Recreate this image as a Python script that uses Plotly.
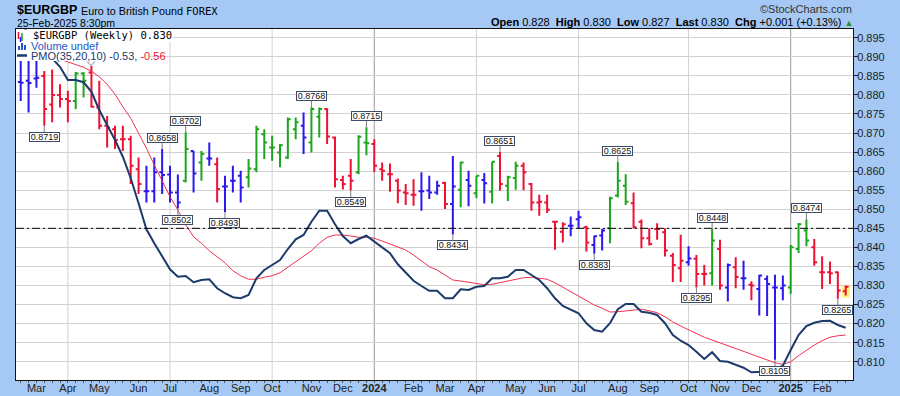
import pandas as pd
import plotly.graph_objects as go

# ---------------- data ----------------
start_week = "2023-02-20"
n_weeks = 106
dates = pd.date_range(start=start_week, periods=n_weeks, freq="7D")

opens = [0.8834, 0.8837, 0.8843, 0.8850, 0.8775, 0.8800, 0.8789, 0.8784, 0.8856, 0.8859,
         0.8767, 0.8719, 0.8710, 0.8684, 0.8684, 0.8605, 0.8547, 0.8547, 0.8597, 0.8591,
         0.8544, 0.8575, 0.8653, 0.8623, 0.8633, 0.8618, 0.8560, 0.8575, 0.8588, 0.8584,
         0.8605, 0.8697, 0.8662, 0.8649, 0.8636, 0.8710, 0.8719, 0.8675, 0.8743, 0.8763,
         0.8688, 0.8577, 0.8588, 0.8597, 0.8675, 0.8671, 0.8605, 0.8592, 0.8575, 0.8544,
         0.8538, 0.8547, 0.8549, 0.8544, 0.8569, 0.8514, 0.8551, 0.8577, 0.8542, 0.8577,
         0.8546, 0.8640, 0.8562, 0.8582, 0.8614, 0.8566, 0.8518, 0.8518, 0.8467, 0.8441,
         0.8457, 0.8474, 0.8453, 0.8406, 0.8431, 0.8450, 0.8536, 0.8562, 0.8516, 0.8467,
         0.8424, 0.8448, 0.8440, 0.8378, 0.8345, 0.8361, 0.8370, 0.8330, 0.8332, 0.8396,
         0.8295, 0.8348, 0.8319, 0.8302, 0.8291, 0.8317, 0.8295, 0.8293, 0.8295, 0.8396,
         0.8444, 0.8400, 0.8335, 0.8335, 0.8335, 0.8285]
highs = [0.8889, 0.8889, 0.8889, 0.8863, 0.8867, 0.8828, 0.8811, 0.8860, 0.8860, 0.8876,
         0.8837, 0.8745, 0.8719, 0.8719, 0.8693, 0.8636, 0.8614, 0.8636, 0.8658, 0.8614,
         0.8591, 0.8702, 0.8653, 0.8653, 0.8675, 0.8636, 0.8588, 0.8614, 0.8601, 0.8632,
         0.8719, 0.8710, 0.8693, 0.8671, 0.8741, 0.8741, 0.8754, 0.8768, 0.8767, 0.8765,
         0.8691, 0.8588, 0.8632, 0.8694, 0.8715, 0.8684, 0.8623, 0.8620, 0.8581, 0.8566,
         0.8579, 0.8597, 0.8588, 0.8575, 0.8572, 0.8640, 0.8625, 0.8601, 0.8588, 0.8595,
         0.8625, 0.8651, 0.8588, 0.8625, 0.8623, 0.8569, 0.8538, 0.8538, 0.8470, 0.8466,
         0.8481, 0.8496, 0.8457, 0.8431, 0.8448, 0.8533, 0.8625, 0.8592, 0.8544, 0.8473,
         0.8450, 0.8463, 0.8450, 0.8385, 0.8433, 0.8403, 0.8380, 0.8354, 0.8448, 0.8420,
         0.8358, 0.8374, 0.8365, 0.8311, 0.8328, 0.8326, 0.8328, 0.8326, 0.8406, 0.8464,
         0.8474, 0.8422, 0.8377, 0.8363, 0.8337, 0.8300]
lows = [0.8784, 0.8754, 0.8819, 0.8719, 0.8728, 0.8767, 0.8728, 0.8763, 0.8793, 0.8767,
        0.8710, 0.8662, 0.8658, 0.8653, 0.8566, 0.8540, 0.8518, 0.8518, 0.8540, 0.8518,
        0.8502, 0.8570, 0.8544, 0.8575, 0.8614, 0.8518, 0.8493, 0.8544, 0.8518, 0.8557,
        0.8597, 0.8632, 0.8627, 0.8610, 0.8632, 0.8684, 0.8645, 0.8649, 0.8688, 0.8671,
        0.8557, 0.8552, 0.8549, 0.8592, 0.8642, 0.8598, 0.8575, 0.8546, 0.8516, 0.8511,
        0.8509, 0.8496, 0.8527, 0.8538, 0.8501, 0.8434, 0.8505, 0.8508, 0.8529, 0.8515,
        0.8515, 0.8549, 0.8522, 0.8551, 0.8550, 0.8496, 0.8483, 0.8490, 0.8394, 0.8413,
        0.8429, 0.8450, 0.8389, 0.8383, 0.8392, 0.8411, 0.8531, 0.8511, 0.8450, 0.8398,
        0.8405, 0.8420, 0.8376, 0.8309, 0.8309, 0.8352, 0.8295, 0.8300, 0.8300, 0.8289,
        0.8258, 0.8293, 0.8289, 0.8261, 0.8221, 0.8220, 0.8105, 0.8261, 0.8278, 0.8385,
        0.8403, 0.8352, 0.8291, 0.8304, 0.8265, 0.8274]
closes = [0.8832, 0.8831, 0.8845, 0.8763, 0.8800, 0.8789, 0.8784, 0.8856, 0.8837, 0.8769,
          0.8719, 0.8714, 0.8682, 0.8684, 0.8614, 0.8566, 0.8547, 0.8597, 0.8590, 0.8544,
          0.8518, 0.8658, 0.8594, 0.8645, 0.8633, 0.8553, 0.8560, 0.8575, 0.8557, 0.8607,
          0.8710, 0.8675, 0.8662, 0.8668, 0.8736, 0.8728, 0.8688, 0.8763, 0.8763, 0.8691,
          0.8579, 0.8566, 0.8575, 0.8690, 0.8673, 0.8614, 0.8601, 0.8592, 0.8549, 0.8542,
          0.8538, 0.8547, 0.8544, 0.8562, 0.8514, 0.8560, 0.8623, 0.8562, 0.8588, 0.8568,
          0.8625, 0.8566, 0.8584, 0.8614, 0.8597, 0.8518, 0.8520, 0.8499, 0.8467, 0.8461,
          0.8457, 0.8479, 0.8413, 0.8429, 0.8444, 0.8529, 0.8575, 0.8520, 0.8453, 0.8424,
          0.8409, 0.8448, 0.8392, 0.8354, 0.8365, 0.8371, 0.8330, 0.8330, 0.8418, 0.8300,
          0.8354, 0.8322, 0.8319, 0.8300, 0.8326, 0.8304, 0.8295, 0.8300, 0.8400, 0.8461,
          0.8418, 0.8361, 0.8335, 0.8332, 0.8287, 0.8297]
# bar colour class per week: g = green, r = red, b = blue
bar_class = list("bbbrrrrggrrrrrrrbbbbbgbgbr"
                 "bbbgggggggbggrrrrggrrrrrrbb"
                 "brbgbgbgrggrrrrrrbbrbbgggrr"
                 "rrrrrbrrgrbrbrbbbbgggrrrrr")

pmo = [0.688, 0.648, 0.608, 0.574, 0.548, 0.514, 0.461, 0.461, 0.452, 0.414,
       0.341, 0.281, 0.221, 0.154, 0.068, -0.032, -0.136, -0.192, -0.246, -0.296,
       -0.326, -0.323, -0.348, -0.339, -0.336, -0.372, -0.392, -0.408, -0.412, -0.399,
       -0.332, -0.299, -0.279, -0.259, -0.215, -0.176, -0.159, -0.106, -0.062, -0.062,
       -0.116, -0.163, -0.192, -0.175, -0.162, -0.186, -0.208, -0.232, -0.276, -0.308,
       -0.342, -0.363, -0.382, -0.382, -0.412, -0.412, -0.376, -0.379, -0.366, -0.363,
       -0.332, -0.332, -0.326, -0.299, -0.299, -0.319, -0.339, -0.372, -0.412, -0.443,
       -0.456, -0.472, -0.512, -0.539, -0.546, -0.512, -0.456, -0.435, -0.435, -0.466,
       -0.470, -0.479, -0.512, -0.559, -0.582, -0.599, -0.626, -0.655, -0.628, -0.663,
       -0.666, -0.679, -0.690, -0.708, -0.708, -0.706, -0.699, -0.682, -0.619, -0.559,
       -0.523, -0.510, -0.503, -0.502, -0.519, -0.530]
pmo_signal = [0.620, 0.600, 0.585, 0.570, 0.556, 0.544, 0.534, 0.524, 0.512, 0.496,
              0.474, 0.444, 0.404, 0.354, 0.308, 0.248, 0.188, 0.121, 0.054, -0.006,
              -0.059, -0.119, -0.166, -0.192, -0.222, -0.246, -0.270, -0.302, -0.322, -0.336,
              -0.336, -0.328, -0.322, -0.310, -0.288, -0.268, -0.246, -0.222, -0.192, -0.168,
              -0.159, -0.159, -0.163, -0.168, -0.168, -0.172, -0.183, -0.195, -0.206, -0.219,
              -0.239, -0.263, -0.286, -0.299, -0.320, -0.339, -0.343, -0.347, -0.354, -0.358,
              -0.356, -0.350, -0.344, -0.336, -0.330, -0.328, -0.331, -0.336, -0.350, -0.368,
              -0.386, -0.402, -0.419, -0.439, -0.452, -0.467, -0.466, -0.462, -0.459, -0.456,
              -0.462, -0.470, -0.486, -0.507, -0.523, -0.539, -0.555, -0.568, -0.579, -0.590,
              -0.602, -0.612, -0.623, -0.636, -0.646, -0.659, -0.670, -0.676, -0.666, -0.642,
              -0.619, -0.599, -0.582, -0.568, -0.562, -0.559]

peak_weeks = [18, 21, 37, 44, 61, 76, 88, 100]
trough_weeks = [3, 20, 26, 42, 55, 73, 86, 96, 104]
ref_level = 0.845

day_open, day_high, day_low, day_last = 0.828, 0.830, 0.827, 0.830
day_chg, day_chg_pct = 0.001, 0.13
pmo_now, pmo_sig_now = -0.53, -0.56

# ---------------- styling ----------------
W, H = 900, 396
ML, MR, MT, MB = 16, 47, 29, 16
PW, PH = W - ML - MR, H - MT - MB
FONT = "Liberation Sans, Arial, sans-serif"
BG = "#a5c9f4"
palette = {"g": "#1ea51e", "r": "#ee1133", "b": "#2a18ee"}
NAVY = "#1c3a6c"
SIGRED = "#f2314f"


def px(x):
    return (x - ML) / PW


def py(y):
    return (H - MB - y) / PH


fig = go.Figure()

for key, col in palette.items():
    idx = [i for i, c in enumerate(bar_class) if c == key]
    fig.add_trace(go.Ohlc(
        x=[dates[i] for i in idx],
        open=[opens[i] for i in idx], high=[highs[i] for i in idx],
        low=[lows[i] for i in idx], close=[closes[i] for i in idx],
        increasing=dict(line=dict(color=col, width=2)),
        decreasing=dict(line=dict(color=col, width=2)),
        tickwidth=0.36, showlegend=False, hoverinfo="skip"))

fig.add_trace(go.Scatter(x=dates, y=pmo_signal, yaxis="y2", mode="lines",
                         line=dict(color=SIGRED, width=1), showlegend=False, hoverinfo="skip"))
fig.add_trace(go.Scatter(x=dates, y=pmo, yaxis="y2", mode="lines",
                         line=dict(color=NAVY, width=2), showlegend=False, hoverinfo="skip"))

# month labels at first weekly bar of each month
tickvals, ticktext, grid_dates = [], [], []
for i in range(1, n_weeks):
    if dates[i].month != dates[i - 1].month:
        tickvals.append(dates[i])
        if dates[i].month == 1:
            ticktext.append(f"<b>{dates[i].year}</b>")
        else:
            ticktext.append(dates[i].strftime("%b"))
        if dates[i].month in (1, 4, 7, 10):
            grid_dates.append(dates[i])

week = pd.Timedelta(days=7)
x_range = [dates[0] - 0.6 * week, dates[-1] + 0.93 * week]

shapes = []
for d in grid_dates:
    shapes.append(dict(type="line", xref="x", yref="paper", x0=d, x1=d, y0=0, y1=1,
                       line=dict(color="#9a9a9a" if d.month == 1 else "#d2d2d2", width=1),
                       layer="below"))
shapes.append(dict(type="line", xref="paper", yref="y", x0=0, x1=1, y0=ref_level, y1=ref_level,
                   line=dict(color="#000000", width=1, dash="8px,3px,2px,3px"), layer="above"))
# highlight of the latest bar
shapes.append(dict(type="rect", xref="x", yref="y",
                   x0=dates[-1] - 0.45 * week, x1=dates[-1] + 0.5 * week,
                   y0=lows[-1] - 0.0006, y1=highs[-1] + 0.0002,
                   fillcolor="#fff07a", line=dict(width=0), layer="below"))
# white legend backing
shapes.append(dict(type="rect", xref="paper", yref="paper", x0=px(16.5), x1=px(150),
                   y0=py(61), y1=py(29.5), fillcolor="white", line=dict(width=0), layer="above"))
shapes.append(dict(type="rect", xref="paper", yref="paper", x0=px(150), x1=px(173),
                   y0=py(42), y1=py(29.5), fillcolor="white", line=dict(width=0), layer="above"))
# small callout tail peeking below the legend (label itself hidden there)
shapes.append(dict(type="path", xref="paper", yref="paper",
                   path=f"M {px(87)} {py(61.5)} L {px(91)} {py(65.5)} L {px(95)} {py(61.5)}",
                   line=dict(color="#7a7a8a", width=1), layer="above"))
# legend icons
shapes += [
    dict(type="line", xref="paper", yref="paper", x0=px(18.5), x1=px(18.5), y0=py(39), y1=py(32),
         line=dict(color="#ee1133", width=1.5), layer="above"),
    dict(type="line", xref="paper", yref="paper", x0=px(22), x1=px(22), y0=py(41), y1=py(33),
         line=dict(color="#1ea51e", width=1.5), layer="above"),
    dict(type="line", xref="paper", yref="paper", x0=px(20.5), x1=px(20.5), y0=py(42), y1=py(37),
         line=dict(color="#2a18ee", width=1.5), layer="above"),
]
for bx, bt in [(18, 46), (21, 43), (24, 45)]:
    shapes.append(dict(type="rect", xref="paper", yref="paper", x0=px(bx), x1=px(bx + 2),
                       y0=py(50), y1=py(bt), fillcolor="#2255cc", line=dict(width=0), layer="above"))
shapes.append(dict(type="line", xref="paper", yref="paper", x0=px(17), x1=px(27), y0=py(55.5),
                   y1=py(55.5), line=dict(color=NAVY, width=2.5), layer="above"))

annotations = []
label_font = dict(family=FONT, size=9, color="#111")
for i in peak_weeks:
    annotations.append(dict(x=dates[i], y=highs[i], xref="x", yref="y", text=f"{highs[i]:.4f}",
                            showarrow=True, arrowhead=0, arrowwidth=1, arrowcolor="#7a7a8a",
                            ax=0, ay=-11, font=label_font, bgcolor="white", bordercolor="#3c4a66",
                            borderwidth=1, borderpad=0, width=29, height=8))
for i in trough_weeks:
    annotations.append(dict(x=dates[i], y=lows[i], xref="x", yref="y", text=f"{lows[i]:.4f}",
                            showarrow=True, arrowhead=0, arrowwidth=1, arrowcolor="#7a7a8a",
                            ax=0, ay=11, font=label_font, bgcolor="white", bordercolor="#3c4a66",
                            borderwidth=1, borderpad=0, width=29, height=8))

sp = "\u00a0"
# legend lines
annotations += [
    dict(xref="paper", yref="paper", x=px(29), y=py(55.5), xanchor="left", yanchor="middle",
         text=f"PMO(35,20,10) {pmo_now:.2f}, <span style='color:#e8102e'>{pmo_sig_now:.2f}</span>",
         showarrow=False, font=dict(family=FONT, size=11, color=NAVY)),
    dict(xref="paper", yref="paper", x=px(29), y=py(45.5), xanchor="left", yanchor="middle",
         text="Volume undef", showarrow=False,
         font=dict(family=FONT, size=11, color="#2255cc")),
    dict(xref="paper", yref="paper", x=px(31), y=py(35.5), xanchor="left", yanchor="middle",
         text=f"$EURGBP (Weekly) {closes[-1]:.3f}", showarrow=False,
         font=dict(family="DejaVu Sans Mono, monospace", size=10.5, color="#000")),
]
# header
annotations += [
    dict(xref="paper", yref="paper", x=px(15), y=py(10), xanchor="left", yanchor="middle",
         text="<b>$EURGBP</b>", showarrow=False, font=dict(family=FONT, size=12.5, color="#000")),
    dict(xref="paper", yref="paper", x=px(79), y=py(10.5), xanchor="left", yanchor="middle",
         text="Euro to British Pound", showarrow=False, font=dict(family=FONT, size=10.8, color="#000")),
    dict(xref="paper", yref="paper", x=px(184), y=py(10.5), xanchor="left", yanchor="middle",
         text="FOREX", showarrow=False, font=dict(family="DejaVu Sans Mono, monospace", size=10.5, color="#000")),
    dict(xref="paper", yref="paper", x=px(15), y=py(23), xanchor="left", yanchor="middle",
         text="25-Feb-2025 8:30pm", showarrow=False, font=dict(family=FONT, size=10.5, color="#000")),
    dict(xref="paper", yref="paper", x=px(854), y=py(9.5), xanchor="right", yanchor="middle",
         text="©StockCharts.com", showarrow=False, font=dict(family=FONT, size=11, color="#333")),
    dict(xref="paper", yref="paper", x=px(855), y=py(22.5), xanchor="right", yanchor="middle",
         text=(f"<b>Open</b> {day_open:.3f}{sp}{sp}<b>High</b> {day_high:.3f}{sp}{sp}"
               f"<b>Low</b> {day_low:.3f}{sp}{sp}<b>Last</b> {day_last:.3f}{sp}{sp}"
               f"<b>Chg</b> {day_chg:+.3f} ({day_chg_pct:+.2f}%) "
               f"<span style='color:#2e8b2e;font-size:9px'>▲</span>"),
         showarrow=False, font=dict(family=FONT, size=11, color="#000")),
]

fig.update_layout(
    width=W, height=H,
    margin=dict(l=ML, r=MR, t=MT, b=MB, pad=0, autoexpand=False),
    paper_bgcolor=BG, plot_bgcolor="white",
    showlegend=False,
    font=dict(family=FONT, size=11, color="#222"),
    xaxis=dict(type="date", range=x_range, showgrid=False, zeroline=False, automargin=False,
               tickmode="array", tickvals=tickvals, ticktext=ticktext,
               ticks="", ticklabelstandoff=-2,
               tickfont=dict(family=FONT, size=11, color="#222"),
               showline=True, mirror=True, linecolor="#111", linewidth=1,
               rangeslider=dict(visible=False),
               minor=dict(ticks="outside", ticklen=2, tickcolor="#555", dtick=7 * 86400000,
                          tick0=start_week, showgrid=False)),
    yaxis=dict(side="right", range=[0.8052, 0.8973], tick0=0.81, dtick=0.005, tickformat=".3f",
               showgrid=True, gridcolor="#d2d2d2", gridwidth=1, zeroline=False, automargin=False,
               ticks="outside", ticklen=4, tickcolor="#222", ticklabelstandoff=-3,
               tickfont=dict(family=FONT, size=11, color="#222"),
               showline=True, mirror=True, linecolor="#111", linewidth=1),
    yaxis2=dict(overlaying="y", range=[-0.739, 0.665], visible=False),
    shapes=shapes,
    annotations=annotations,
)

fig.write_html("out.html")
